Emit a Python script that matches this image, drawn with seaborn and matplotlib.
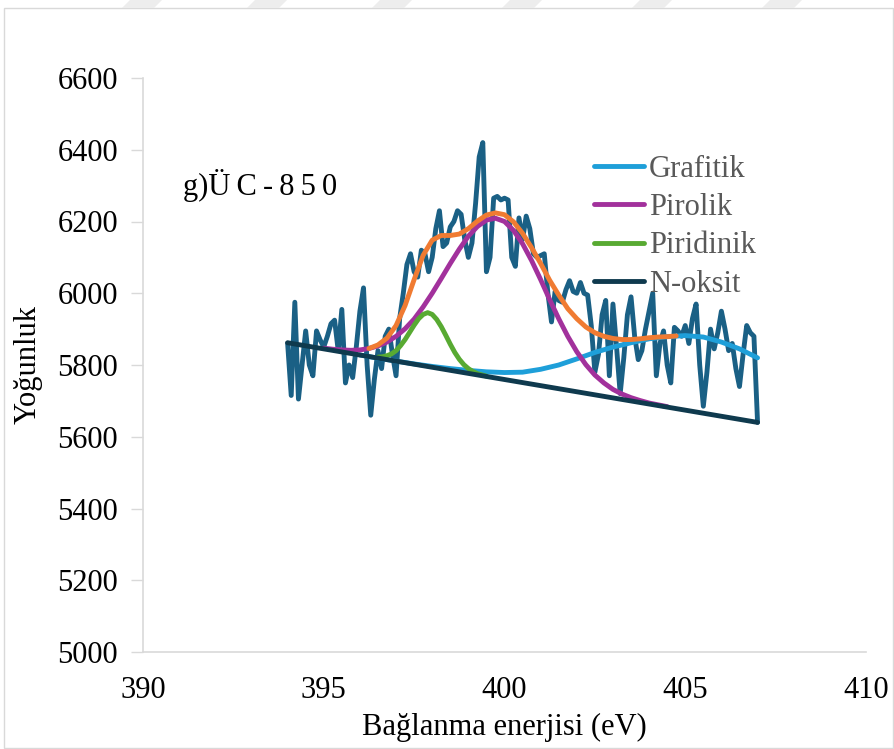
import matplotlib
matplotlib.use("Agg")
import matplotlib.pyplot as plt
from matplotlib.lines import Line2D
from matplotlib.patches import Rectangle, Polygon
import pandas as pd
import seaborn as sns

# Measured N 1s spectrum (binding energy in eV, counts)
energy = [
    394.0, 394.1, 394.2, 394.3, 394.4, 394.5, 394.6, 394.7, 394.8, 394.9,
    395.0, 395.1, 395.2, 395.3, 395.4, 395.5, 395.6, 395.7, 395.8, 395.9,
    396.0, 396.1, 396.2, 396.3, 396.4, 396.5, 396.6, 396.7, 396.8, 396.9,
    397.0, 397.1, 397.2, 397.3, 397.4, 397.5, 397.6, 397.7, 397.8, 397.9,
    398.0, 398.1, 398.2, 398.3, 398.4, 398.5, 398.6, 398.7, 398.8, 398.9,
    399.0, 399.1, 399.2, 399.3, 399.4, 399.5, 399.6, 399.7, 399.8, 399.9,
    400.0, 400.1, 400.2, 400.3, 400.4, 400.5, 400.6, 400.7, 400.8, 400.9,
    401.0, 401.1, 401.2, 401.3, 401.4, 401.5, 401.6, 401.7, 401.8, 401.9,
    402.0, 402.1, 402.2, 402.3, 402.4, 402.5, 402.6, 402.7, 402.8, 402.9,
    403.0, 403.1, 403.2, 403.3, 403.4, 403.5, 403.6, 403.7, 403.8, 403.9,
    404.0, 404.1, 404.2, 404.3, 404.4, 404.5, 404.6, 404.7, 404.8, 404.9,
    405.0, 405.1, 405.2, 405.3, 405.4, 405.5, 405.6, 405.7, 405.8, 405.9,
    406.0, 406.1, 406.2, 406.3, 406.4, 406.5, 406.6, 406.7, 406.8, 406.9,
    407.0,
]
intensity = [
    5861, 5715, 5975, 5705, 5800, 5895, 5800, 5770, 5895, 5870,
    5850, 5880, 5915, 5925, 5840, 5955, 5750, 5800, 5765, 5850,
    5950, 6015, 5800, 5660, 5760, 5840, 5790, 5880, 5900, 5830,
    5770, 5930, 6000, 6080, 6110, 6060, 6045, 6120, 6110, 6060,
    6100, 6180, 6230, 6130, 6140, 6185, 6200, 6230, 6220, 6150,
    6100, 6140, 6250, 6380, 6420, 6060, 6100, 6265, 6270, 6260,
    6265, 6260, 6100, 6075, 6210, 6150, 6215, 6180, 6110, 6100,
    6105, 6110, 6000, 5920, 6005, 5980, 5975, 6010, 6035, 6005,
    6000, 6030, 6000, 5995, 5910, 5780, 5830, 5940, 5980, 5770,
    5970, 5850, 5720, 5820, 5940, 5990, 5880, 5815, 5840, 5900,
    5950, 6000, 5770, 5860, 5895, 5800, 5750, 5905, 5895, 5880,
    5910, 5860, 5930, 5970, 5800, 5685, 5780, 5900, 5845, 5890,
    5950, 5900, 5840, 5860, 5790, 5740, 5830, 5910, 5890, 5880,
    5640,
]

# Fitted components
grafitik_x = [396.0, 396.5, 397.0, 397.5, 398.0, 398.5, 399.0, 399.5, 400.0, 400.5,
              401.0, 401.5, 402.0, 402.5, 403.0, 403.5, 404.0, 404.5, 405.0, 405.5,
              406.0, 406.5, 407.0]
grafitik_y = [5828, 5819, 5811, 5803, 5796, 5790, 5785, 5781, 5779, 5780,
              5788, 5800, 5817, 5835, 5850, 5862, 5873, 5879, 5882, 5878,
              5864, 5845, 5820]

pirolik_x = [395.0, 395.25, 395.5, 395.75, 396.0, 396.25, 396.5, 396.75, 397.0, 397.25,
             397.5, 397.75, 398.0, 398.25, 398.5, 398.75, 399.0, 399.25, 399.5, 399.75,
             400.0, 400.25, 400.5, 400.75, 401.0, 401.25, 401.5, 401.75, 402.0, 402.25,
             402.5, 402.75, 403.0, 403.25, 403.5, 403.75, 404.0, 404.25, 404.5]
pirolik_y = [5847, 5844, 5842, 5841, 5842, 5846, 5853, 5864, 5880, 5901,
             5928, 5962, 6000, 6041, 6083, 6123, 6159, 6186, 6204, 6209,
             6200, 6175, 6138, 6091, 6038, 5982, 5929, 5880, 5837, 5801,
             5772, 5750, 5732, 5719, 5709, 5701, 5694, 5689, 5684]

piridinik_x = [396.5, 396.625, 396.75, 396.875, 397.0, 397.125, 397.25, 397.375, 397.5, 397.625,
               397.75, 397.875, 398.0, 398.125, 398.25, 398.375, 398.5, 398.625, 398.75, 398.875,
               399.0, 399.125, 399.25, 399.5]
piridinik_y = [5822, 5823, 5826, 5831, 5840, 5854, 5871, 5891, 5911, 5929,
               5941, 5946, 5941, 5927, 5907, 5883, 5858, 5835, 5816, 5801,
               5790, 5782, 5776, 5769]

noksit_x = [394.0, 407.0]
noksit_y = [5862, 5640]

zarf_x = [396.25, 396.5, 396.75, 397.0, 397.25, 397.5, 397.75, 398.0, 398.25, 398.5,
          398.75, 399.0, 399.25, 399.5, 399.75, 400.0, 400.25, 400.5, 400.75, 401.0,
          401.25, 401.5, 401.75, 402.0, 402.25, 402.5, 402.75, 403.0, 403.25, 403.5,
          403.75, 404.0, 404.25, 404.5, 404.75]
zarf_y = [5846, 5856, 5875, 5910, 5966, 6038, 6106, 6148, 6161, 6161,
          6165, 6180, 6201, 6218, 6224, 6219, 6199, 6167, 6127, 6083,
          6036, 5995, 5957, 5929, 5906, 5890, 5880, 5874, 5871, 5871,
          5873, 5876, 5878, 5879, 5881]

x_ticks = [390, 395, 400, 405, 410]
y_ticks = [5000, 5200, 5400, 5600, 5800, 6000, 6200, 6400, 6600]

sns.set_theme(style="white")
plt.rcParams["font.family"] = ["Liberation Serif", "DejaVu Serif"]
FS = 22

fig = plt.figure(figsize=(8.94, 7.49), dpi=100)
ax = fig.add_axes([143 / 894, 1 - 652 / 749, (866 - 143) / 894, (652 - 78) / 749])

c_data = "#1A6085"
c_graf = "#1E9FD9"
c_piro = "#A2319C"
c_piri = "#58AA32"
c_nok = "#0F3A4E"
c_zarf = "#F07B32"
lw = 3.5

def draw(xs, ys, color, z):
    df = pd.DataFrame({"x": xs, "y": ys})
    sns.lineplot(data=df, x="x", y="y", ax=ax, color=color, linewidth=lw,
                 sort=False, estimator=None, zorder=z, legend=False)
    ax.lines[-1].set_solid_capstyle("round")
    ax.lines[-1].set_solid_joinstyle("round")

draw(energy, intensity, c_data, 2)
draw(grafitik_x, grafitik_y, c_graf, 3)
draw(pirolik_x, pirolik_y, c_piro, 4)
draw(piridinik_x, piridinik_y, c_piri, 5)
draw(noksit_x, noksit_y, c_nok, 6)
draw(zarf_x, zarf_y, c_zarf, 7)

ax.set_xlim(390, 410)
ax.set_ylim(5000, 6600)
ax.set_xticks(x_ticks)
ax.set_yticks(y_ticks)
ax.set_xticklabels([str(v) for v in x_ticks])
ax.set_yticklabels([str(v) for v in y_ticks])
ax.tick_params(axis="x", length=0, pad=17, labelsize=FS, labelcolor="black")
ax.tick_params(axis="y", length=9, width=1, color="#D9D9D9", pad=9,
               labelsize=FS, labelcolor="black", left=True)

for side in ["top", "right"]:
    ax.spines[side].set_visible(False)
for side in ["left", "bottom"]:
    ax.spines[side].set_color("#D9D9D9")
    ax.spines[side].set_linewidth(1.2)

ax.set_xlabel("Bağlanma enerjisi (eV)", fontsize=FS, color="black")
ax.set_ylabel("Yoğunluk", fontsize=FS, color="black")
ax.xaxis.label.set_va("center")
ax.yaxis.label.set_va("center")
ax.xaxis.set_label_coords(0.5, (652 - 727) / 574)
ax.yaxis.set_label_coords((28 - 143) / 723, 0.5)

# sample label, letter-spaced with thin spaces
ax.text(391.1, 6300, "g)Ü\u2009C\u2009-\u20098\u20095\u20090", fontsize=FS,
        color="black", va="center", ha="left")

handles = [Line2D([0], [0], color=c, lw=lw, solid_capstyle="round")
           for c in [c_graf, c_piro, c_piri, c_nok]]
leg = ax.legend(handles, ["Grafitik", "Pirolik", "Piridinik", "N-oksit"],
                loc="upper left", bbox_to_anchor=((594 - 143) / 723, (652 - 155) / 574),
                frameon=False, fontsize=FS, handlelength=1.65, handletextpad=0.15,
                labelspacing=0.3, borderpad=0, borderaxespad=0)
for t in leg.get_texts():
    t.set_color("#595959")

# outer frame and faint header stripes
fig.patches.append(Rectangle((4 / 894, 1 / 749), 889 / 894, 740 / 749,
                             transform=fig.transFigure, fill=False,
                             edgecolor="#D9D9D9", linewidth=1.0))
for cx in [150, 275, 400, 530, 660, 790]:
    pts = [((cx - 20) / 894, 1.0), ((cx + 12) / 894, 1.0),
           ((cx + 4) / 894, 1 - 8 / 749), ((cx - 28) / 894, 1 - 8 / 749)]
    fig.patches.append(Polygon(pts, closed=True, transform=fig.transFigure,
                               facecolor="#EDEDED", edgecolor="none"))

fig.savefig("out.png", dpi=100, facecolor="white")
